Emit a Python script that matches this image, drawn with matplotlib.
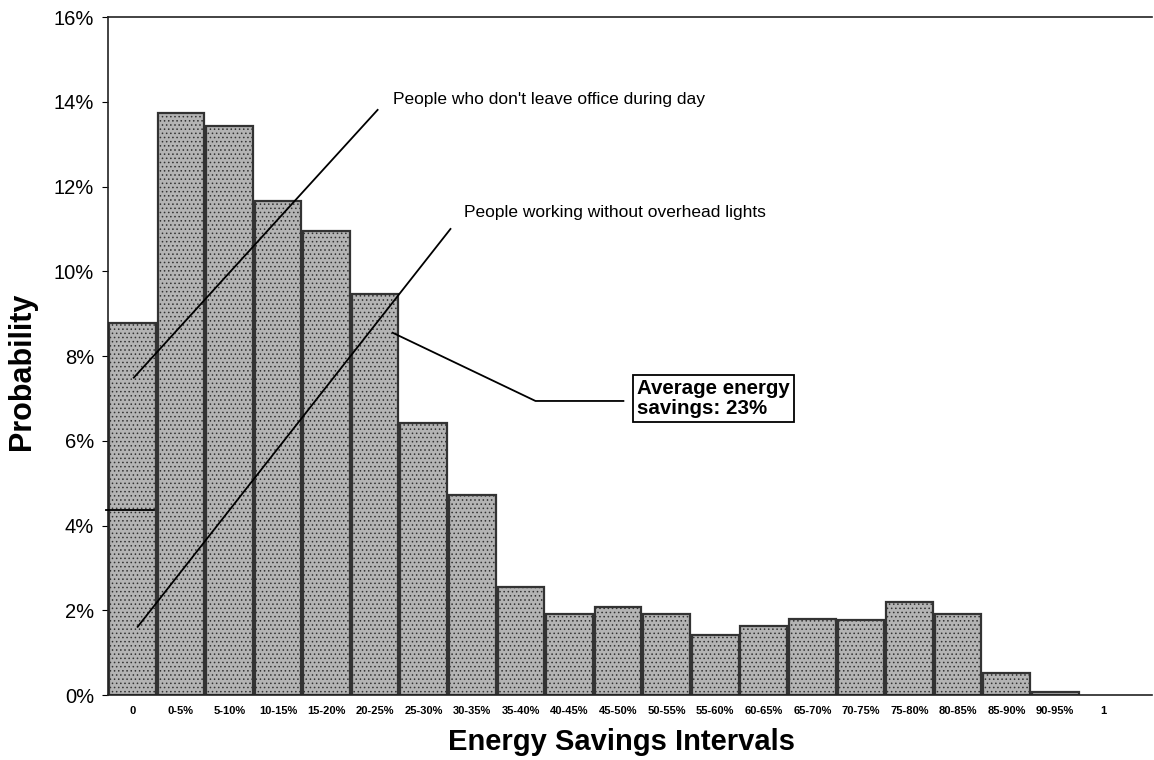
import numpy as np
import matplotlib
matplotlib.use('Agg')
from matplotlib import pyplot as plt

# data
categories = ['0', '0-5%', '5-10%', '10-15%', '15-20%', '20-25%', '25-30%', '30-35%',
              '35-40%', '40-45%', '45-50%', '50-55%', '55-60%', '60-65%', '65-70%',
              '70-75%', '75-80%', '80-85%', '85-90%', '90-95%', '1']
probability = [8.77, 13.73, 13.44, 11.67, 10.96, 9.47, 6.42, 4.71, 2.54, 1.91, 2.07,
               1.91, 1.42, 1.64, 1.79, 1.78, 2.20, 1.91, 0.51, 0.08, np.nan]
y_ticks = [0, 2, 4, 6, 8, 10, 12, 14, 16]

plt.rcParams['font.family'] = ['Liberation Sans', 'DejaVu Sans']
plt.rcParams['hatch.linewidth'] = 0.6

fig = plt.figure(figsize=(11.54, 7.6), dpi=100)
ax = fig.add_axes([0.0936, 0.0855, 0.905, 0.892])

x = np.arange(len(categories))
ax.bar(x, probability, width=0.96, facecolor='#b4b4b4', edgecolor='#333333',
       linewidth=1.6, hatch='....', zorder=2)

ax.set_xlim(-0.5, 21.0)
ax.set_ylim(0, 16)
ax.set_yticks(y_ticks)
ax.set_yticklabels([f'{t}%' for t in y_ticks], fontsize=14.5)
ax.set_xticks(x)
ax.set_xticklabels(categories, fontsize=8, fontweight='bold',
                   family=['Liberation Sans Narrow', 'Liberation Sans', 'DejaVu Sans'])
ax.tick_params(axis='x', length=0, pad=8)
ax.tick_params(axis='y', length=4, direction='out', pad=6)

for side in ['left', 'top', 'bottom']:
    ax.spines[side].set_color('#222222')
    ax.spines[side].set_linewidth(1.2)
ax.spines['right'].set_visible(False)

ax.set_ylabel('Probability', fontsize=22, fontweight='bold')
ax.yaxis.set_label_coords(-0.068, 0.478)
ax.set_xlabel('Energy Savings Intervals', fontsize=21, fontweight='bold')
ax.xaxis.set_label_coords(0.492, -0.048)

# annotation lines
ax.plot([0.03, 5.05], [7.49, 13.81], color='black', lw=1.3, zorder=3)
ax.text(5.36, 14.05, "People who don't leave office during day", fontsize=12.5,
        va='center', ha='left')
ax.plot([0.11, 6.55], [1.61, 11.0], color='black', lw=1.3, zorder=3)
ax.text(6.82, 11.38, 'People working without overhead lights', fontsize=12.5,
        va='center', ha='left')
ax.plot([5.36, 8.30, 10.11], [8.55, 6.94, 6.94], color='black', lw=1.3, zorder=3)
ax.text(10.4, 7.0, 'Average energy\nsavings: 23%', fontsize=14.8, fontweight='bold',
        va='center', ha='left', linespacing=1.1,
        bbox=dict(boxstyle='square,pad=0.2', facecolor='white', edgecolor='black', lw=1.3))
ax.plot([-0.55, 0.45], [4.37, 4.37], color='black', lw=1.3, zorder=3, clip_on=False)

fig.savefig('out.png', dpi=100)
